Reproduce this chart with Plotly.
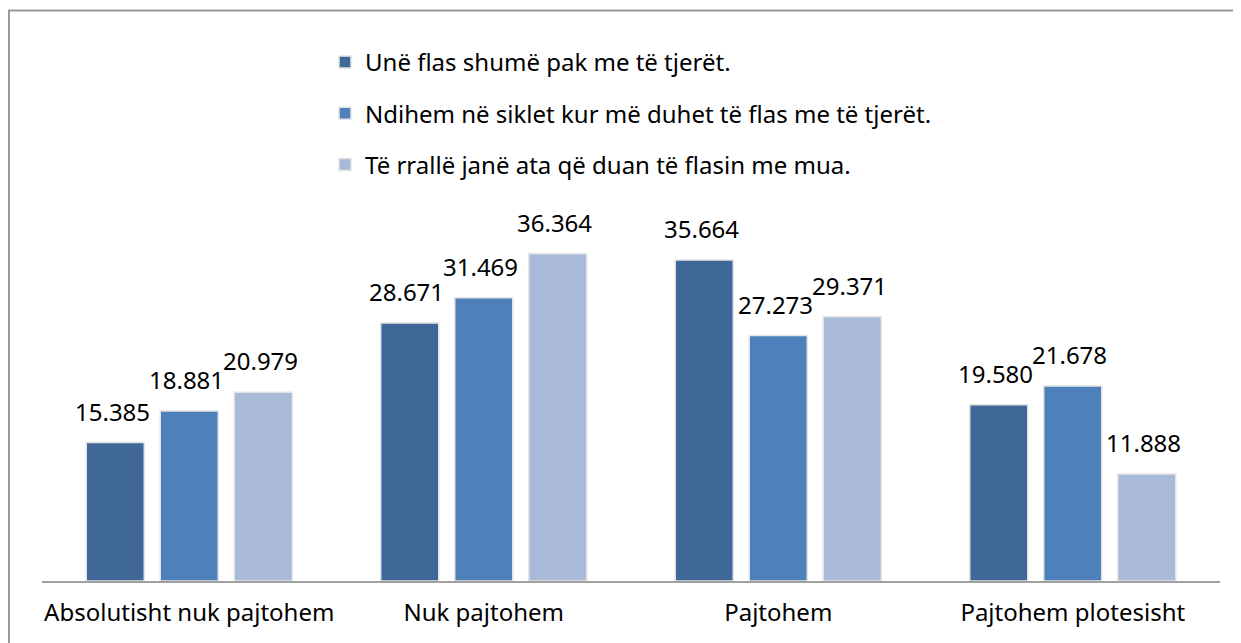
import plotly.graph_objects as go

categories = ["Absolutisht nuk pajtohem", "Nuk pajtohem", "Pajtohem", "Pajtohem plotesisht"]
series_names = [
    "Unë flas shumë pak me të tjerët.",
    "Ndihem në siklet kur më duhet të flas me të tjerët.",
    "Të rrallë janë ata që duan të flasin me mua.",
]
series_values = [
    [15.385, 28.671, 35.664, 19.580],
    [18.881, 31.469, 27.273, 21.678],
    [20.979, 36.364, 29.371, 11.888],
]
colors = ["#3F6899", "#4E80BC", "#A9B9D8"]

FONT = "Noto Sans"
FS = 24
OFF = 8  # page body margin
W, H = 1241 - OFF, 643 - OFF
ML, MR, MT, MB = 42 - OFF, 21, 221 - OFF, 62
BARGAP = 0.246
GROUPGAP = 0.216

fig = go.Figure()
for i, (name, vals, col) in enumerate(zip(series_names, series_values, colors)):
    fig.add_trace(go.Bar(
        x=categories, y=vals, name=name, legendgroup=f"g{i}",
        marker=dict(color=col, line=dict(color="#e4e4e4", width=1.5)),
    ))

# data labels above each bar
slot = (1 - BARGAP) / 3
for i, vals in enumerate(series_values):
    off = (i - 1) * slot
    for j, v in enumerate(vals):
        fig.add_annotation(
            x=j + off, y=v, xref="x", yref="y", text=f"{v:.3f}",
            showarrow=False, yanchor="bottom", yshift=13, xshift=-3,
            font=dict(family=FONT, size=FS, color="#000000"),
        )

pw = W - ML - MR
ph = H - MT - MB
# outer border (top and left visible)
fig.add_shape(
    type="line", xref="paper", yref="paper",
    x0=(0 - ML) / pw, x1=1.2, y0=(H - MB - 2.5) / ph, y1=(H - MB - 2.5) / ph,
    line=dict(color="#999999", width=2),
)
fig.add_shape(
    type="line", xref="paper", yref="paper",
    x0=(1 - ML) / pw, x1=(1 - ML) / pw, y0=-0.5, y1=(H - MB - 2.5) / ph,
    line=dict(color="#999999", width=2),
)

fig.update_layout(
    width=W, height=H,
    margin=dict(l=ML, r=MR, t=MT, b=MB, pad=0),
    paper_bgcolor="white", plot_bgcolor="white",
    barmode="group", bargap=BARGAP, bargroupgap=GROUPGAP,
    font=dict(family=FONT, size=FS, color="#000000"),
    showlegend=True,
    legend=dict(
        x=(325 - 42) / pw, xanchor="left",
        y=(H - MB - (40 - OFF)) / ph, yanchor="top",
        orientation="v", tracegroupgap=17,
        font=dict(family=FONT, size=FS, color="#000000"),
        bgcolor="rgba(0,0,0,0)",
    ),
    xaxis=dict(
        showline=True, linecolor="#a0a0a0", linewidth=1.5,
        showgrid=False, ticks="", ticklabelstandoff=9,
        tickfont=dict(family=FONT, size=FS, color="#000000"),
    ),
    yaxis=dict(
        range=[0, 40], visible=False, showgrid=False, zeroline=False,
    ),
)

fig.write_html("out.html")
